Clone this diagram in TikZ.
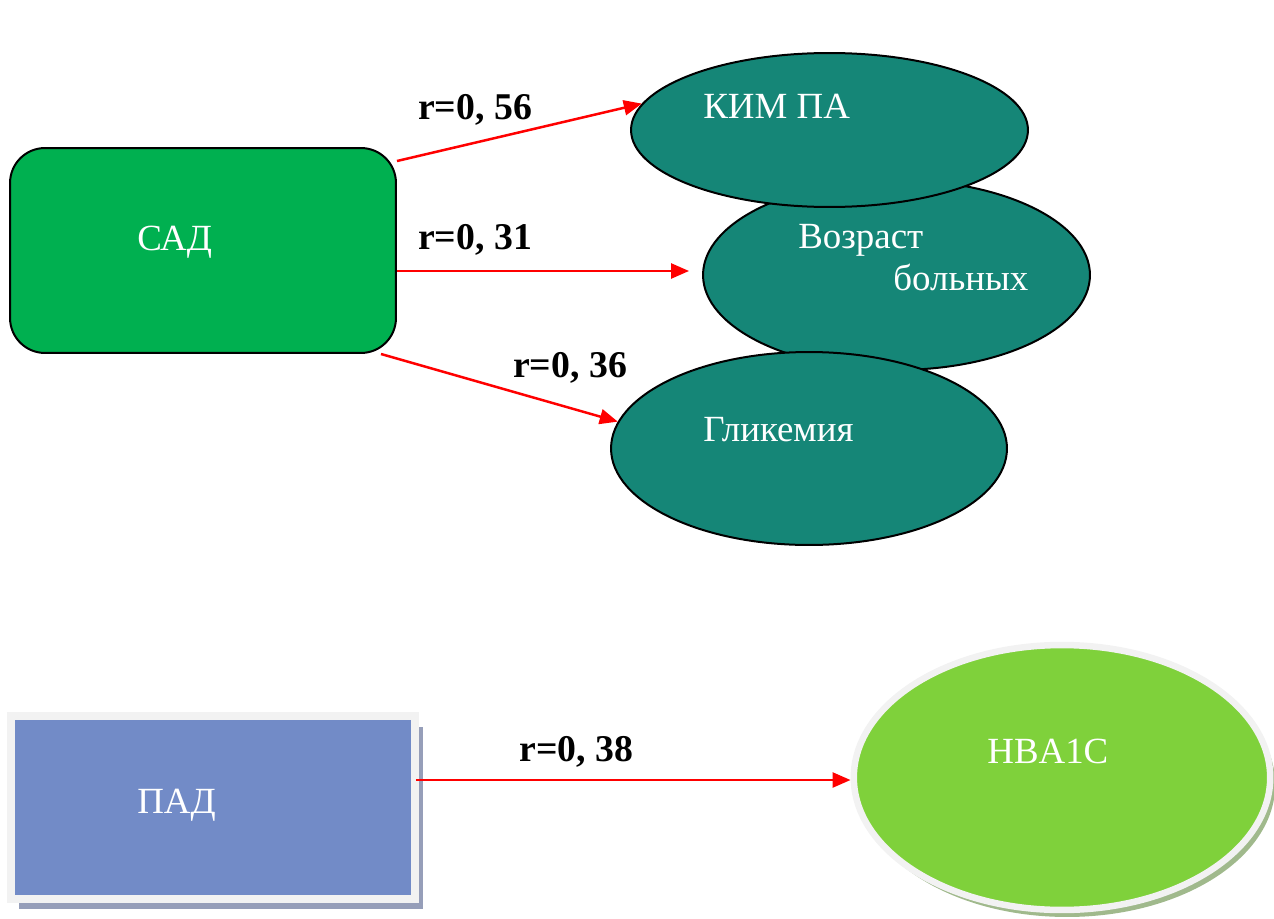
\documentclass[tikz,border=0pt]{standalone}
\usepackage{fontspec}
\setmainfont{Liberation Serif}
\usetikzlibrary{shapes.geometric,arrows.meta,shadows}

\definecolor{sadgreen}{RGB}{0,176,80}
\definecolor{factorteal}{RGB}{21,134,119}
\definecolor{padblue}{RGB}{114,139,199}
\definecolor{padshade}{RGB}{150,158,185}
\definecolor{hbagreen}{RGB}{127,209,59}
\definecolor{hbashade}{RGB}{160,185,140}
\definecolor{ringgray}{RGB}{242,242,242}

\tikzset{
  sadbox/.style={rectangle, rounded corners=0.7cm, draw=black, line width=0.04cm,
    fill=sadgreen, minimum width=7.72cm, minimum height=4.1cm, inner sep=0},
  factor/.style={ellipse, draw=black, line width=0.04cm, fill=factorteal, inner sep=0},
  padbox/.style={rectangle, draw=ringgray, line width=0.16cm, fill=padblue,
    minimum width=8.08cm, minimum height=3.65cm, inner sep=0,
    drop shadow={shadow xshift=0.16cm, shadow yshift=-0.21cm, fill=padshade, opacity=1}},
  hbaoval/.style={ellipse, draw=ringgray, line width=0.13cm, fill=hbagreen,
    minimum width=8.33cm, minimum height=5.3cm, inner sep=0,
    drop shadow={shadow xshift=0.1cm, shadow yshift=-0.14cm, fill=hbashade, opacity=1}},
  link/.style={draw=red, line width=0.05cm, -{Triangle[length=0.36cm,width=0.3cm]}},
  rlabel/.style={font=\fontsize{21.5}{26}\selectfont\bfseries, anchor=base, inner sep=0},
  txt/.style={text=white, font=\fontsize{21}{25}\selectfont, anchor=base west, inner sep=0}
}

\begin{document}
\begin{tikzpicture}[x=0.02cm, y=-0.02cm]
  \useasboundingbox (0,0) rectangle (1274,919);

  % upper group
  \node[sadbox] (sad) at (203,250.5) {};
  \node[factor, minimum width=7.74cm, minimum height=3.8cm] (voz) at (896.5,275) {};
  \node[factor, minimum width=7.94cm, minimum height=3.08cm] (kim) at (829.5,130) {};
  \node[factor, minimum width=7.92cm, minimum height=3.86cm] (gli) at (809,448.5) {};

  \node[txt] (sad-t) at (137,250) {САД};
  \node[txt] (kim-t) at (703,118) {КИМ ПА};
  \node[txt] (voz-t1) at (798,248) {Возраст};
  \node[txt] (voz-t2) at (893,290) {больных};
  \node[txt] (gli-t) at (703,441) {Гликемия};

  \draw[link] ([yshift=-0.28cm]sad.north east) -- (kim.172);
  \draw[link] ([yshift=-0.41cm]sad.east) -- ([xshift=-0.26cm,yshift=-0.41cm]sad.east -| voz.west);
  \draw[link] ([xshift=-0.32cm]sad.south east) -- (gli.172);

  \node[rlabel] (r56) at (475,119) {r=0, 56};
  \node[rlabel] (r31) at (475,249) {r=0, 31};
  \node[rlabel] (r36) at (570,377) {r=0, 36};

  % lower group
  \node[padbox] (pad) at (213,807.5) {};
  \node[hbaoval] (hba) at (1062,777.5) {};
  \node[txt] (pad-t) at (137,813) {ПАД};
  \node[txt] (hba-t) at (987,763) {HBA1C};

  \draw[link] ([xshift=-0.06cm,yshift=0.55cm]pad.east) -- ([yshift=0.55cm]pad.east -| hba.west);
  \node[rlabel] (r38) at (576.5,761) {r=0, 38};
\end{tikzpicture}
\end{document}
